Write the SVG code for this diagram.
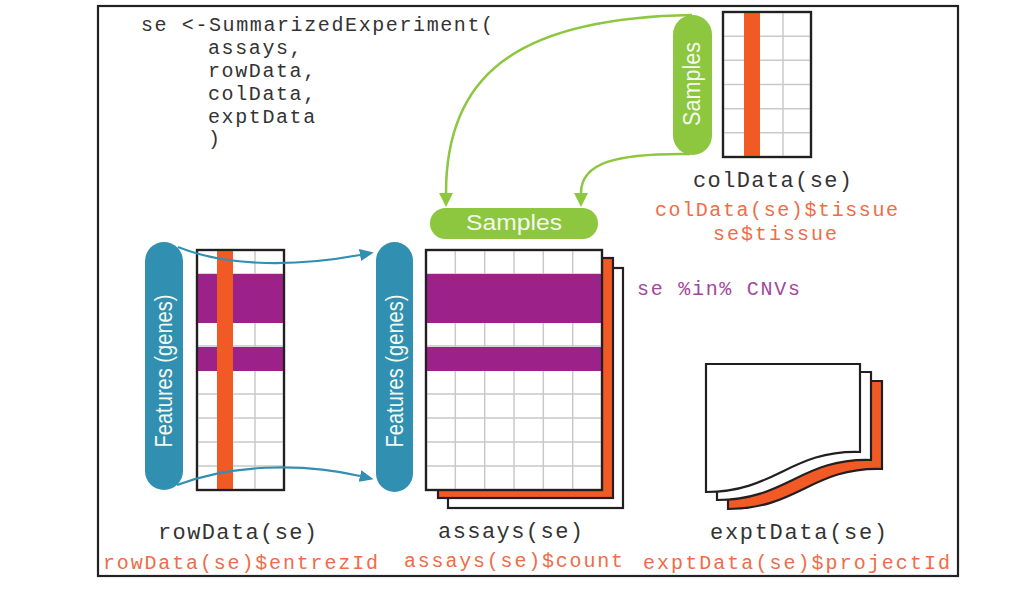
<svg xmlns="http://www.w3.org/2000/svg" width="1015" height="599" viewBox="0 0 1015 599">
<style>
.code{font-family:"Liberation Mono","Courier New",monospace;font-size:20px;letter-spacing:1.6px;fill:#333}
.lbl{font-family:"Liberation Mono","Courier New",monospace;font-size:22px;fill:#333}
.acc{font-family:"Liberation Mono","Courier New",monospace;font-size:20px;fill:#ef6c47}
.pill{font-family:"Liberation Sans",Arial,sans-serif;fill:#f4f9ee}
.box{fill:#fff;stroke:#231f20;stroke-width:2.2}
.grid{stroke:#c9c9c9;stroke-width:1.5}
.pur{fill:#9c2189}
.org{fill:#f15a24}
.green{fill:#8dc63f}
.blue{fill:#3190b2}
.gcon{fill:none;stroke:#8dc63f;stroke-width:2.5}
.bcon{fill:none;stroke:#3190b2;stroke-width:2.2}
</style>
<defs>
<marker id="ga" markerUnits="userSpaceOnUse" markerWidth="14" markerHeight="14" viewBox="0 -7 14 14" refX="0" refY="0" orient="auto"><path d="M0,-7 L14,0 L0,7 z" fill="#8dc63f"/></marker>
<marker id="ba" markerUnits="userSpaceOnUse" markerWidth="14" markerHeight="12" viewBox="0 -6 14 12" refX="0" refY="0" orient="auto"><path d="M0,-6 L14,0 L0,6 z" fill="#3190b2"/></marker>
</defs>
<rect width="1015" height="599" fill="#fff"/>
<rect x="98" y="6" width="860" height="570" fill="none" stroke="#222" stroke-width="2.2"/>

<g id="code">
<text class="code" x="141" y="31">se &lt;-SummarizedExperiment(</text>
<text class="code" x="208" y="54">assays,</text>
<text class="code" x="208" y="77">rowData,</text>
<text class="code" x="208" y="100">colData,</text>
<text class="code" x="208" y="123">exptData</text>
<text class="code" x="208" y="145">)</text>
</g>

<g id="samples-vertical">
<rect class="green" x="673" y="15" width="39" height="140" rx="19.5"/>
<text class="pill" font-size="23" text-anchor="middle" textLength="84" lengthAdjust="spacingAndGlyphs" transform="translate(700,84) rotate(-90)">Samples</text>
</g>

<g id="colData">
<rect class="box" x="723" y="12" width="88" height="145"/>
<g class="grid">
<line x1="723" y1="36.2" x2="811" y2="36.2"/><line x1="723" y1="60.3" x2="811" y2="60.3"/><line x1="723" y1="84.5" x2="811" y2="84.5"/><line x1="723" y1="108.7" x2="811" y2="108.7"/><line x1="723" y1="132.8" x2="811" y2="132.8"/>
<line x1="783" y1="12" x2="783" y2="157"/>
</g>
<rect class="org" x="744" y="12" width="16" height="145"/>
<rect x="723" y="12" width="88" height="145" fill="none" stroke="#231f20" stroke-width="2.2"/>
<text class="lbl" x="693" y="187" textLength="159" lengthAdjust="spacing">colData(se)</text>
<text class="acc" x="655" y="216" textLength="243" lengthAdjust="spacing">colData(se)$tissue</text>
<text class="acc" x="713" y="240" textLength="124" lengthAdjust="spacing">se$tissue</text>
</g>

<g id="samples-horizontal">
<rect class="green" x="430" y="208" width="168" height="31" rx="15.5"/>
<text class="pill" font-size="22" x="466" y="230" textLength="96" lengthAdjust="spacingAndGlyphs">Samples</text>
</g>

<g id="features-left">
<rect class="blue" x="145" y="242" width="38" height="248" rx="19"/>
<text class="pill" font-size="23" text-anchor="middle" textLength="153" lengthAdjust="spacingAndGlyphs" transform="translate(172,371) rotate(-90)">Features (genes)</text>
</g>

<g id="rowData">
<rect class="box" x="197" y="250" width="87" height="240"/>
<g class="grid">
<line x1="197" y1="274" x2="284" y2="274"/><line x1="197" y1="298" x2="284" y2="298"/><line x1="197" y1="322" x2="284" y2="322"/><line x1="197" y1="346" x2="284" y2="346"/><line x1="197" y1="370" x2="284" y2="370"/><line x1="197" y1="394" x2="284" y2="394"/><line x1="197" y1="418" x2="284" y2="418"/><line x1="197" y1="442" x2="284" y2="442"/><line x1="197" y1="466" x2="284" y2="466"/>
<line x1="255" y1="250" x2="255" y2="490"/>
</g>
<rect class="pur" x="197" y="274" width="87" height="49"/>
<rect class="pur" x="197" y="347" width="87" height="24"/>
<rect class="org" x="217" y="250" width="16" height="240"/>
<rect x="197" y="250" width="87" height="240" fill="none" stroke="#231f20" stroke-width="2.2"/>
<text class="lbl" x="158" y="539" textLength="159" lengthAdjust="spacing">rowData(se)</text>
<text class="acc" x="103" y="569" textLength="275" lengthAdjust="spacing">rowData(se)$entrezId</text>
</g>

<g id="features-right">
<rect class="blue" x="376" y="242" width="37" height="250" rx="18.5"/>
<text class="pill" font-size="23" text-anchor="middle" textLength="153" lengthAdjust="spacingAndGlyphs" transform="translate(403,371) rotate(-90)">Features (genes)</text>
</g>

<g id="assays">
<rect class="box" x="448" y="268" width="175" height="240"/>
<rect class="org" x="438" y="258" width="175" height="240" stroke="#231f20" stroke-width="2.2"/>
<rect class="box" x="426" y="250" width="176" height="240"/>
<g class="grid">
<line x1="426" y1="274" x2="602" y2="274"/><line x1="426" y1="298" x2="602" y2="298"/><line x1="426" y1="322" x2="602" y2="322"/><line x1="426" y1="346" x2="602" y2="346"/><line x1="426" y1="370" x2="602" y2="370"/><line x1="426" y1="394" x2="602" y2="394"/><line x1="426" y1="418" x2="602" y2="418"/><line x1="426" y1="442" x2="602" y2="442"/><line x1="426" y1="466" x2="602" y2="466"/>
<line x1="455.3" y1="250" x2="455.3" y2="490"/><line x1="484.7" y1="250" x2="484.7" y2="490"/><line x1="514" y1="250" x2="514" y2="490"/><line x1="543.3" y1="250" x2="543.3" y2="490"/><line x1="572.7" y1="250" x2="572.7" y2="490"/>
</g>
<rect class="pur" x="426" y="274" width="176" height="49"/>
<rect class="pur" x="426" y="347" width="176" height="24"/>
<rect x="426" y="250" width="176" height="240" fill="none" stroke="#231f20" stroke-width="2.2"/>
<text x="637" y="295" font-family="'Liberation Mono','Courier New',monospace" font-size="20" fill="#a0479b" textLength="163" lengthAdjust="spacing">se %in% CNVs</text>
<text class="lbl" x="438" y="538" textLength="145" lengthAdjust="spacing">assays(se)</text>
<text class="acc" x="404" y="567" textLength="219" lengthAdjust="spacing">assays(se)$count</text>
</g>

<g id="exptData">
<path d="M728 381 H882 V469 C812 467 798 509 728 509 Z" fill="#f15a24" stroke="#231f20" stroke-width="2.2"/>
<path d="M717 372 H871 V460 C801 458 787 500 717 500 Z" fill="#fff" stroke="#231f20" stroke-width="2.2"/>
<path d="M706 364 H860 V452 C790 450 776 492 706 492 Z" fill="#fff" stroke="#231f20" stroke-width="2.2"/>
<text class="lbl" x="710" y="539" textLength="177" lengthAdjust="spacing">exptData(se)</text>
<text class="acc" x="643" y="569" textLength="307" lengthAdjust="spacing">exptData(se)$projectId</text>
</g>

<g id="connectors">
<path class="gcon" d="M692 15 C510 18 446 80 446 193" marker-end="url(#ga)"/>
<path class="gcon" d="M690 154 C615 153 581 163 581 193" marker-end="url(#ga)"/>
<path class="bcon" d="M178 247 C230 268 300 266 360 255" marker-end="url(#ba)"/>
<path class="bcon" d="M177 485 C230 465 300 462 360 476" marker-end="url(#ba)"/>
</g>
</svg>
